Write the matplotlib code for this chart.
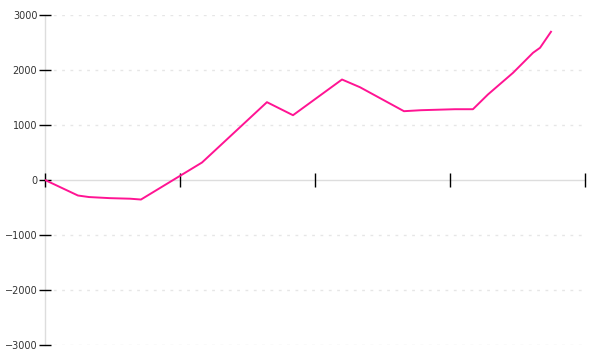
import numpy as np
import matplotlib.pyplot as plt

# values (x in tick units 0..4, y in value units)
x_vals = [0.0, 0.244, 0.326, 0.481, 0.630, 0.711, 1.163, 1.644, 1.837,
          2.200, 2.333, 2.659, 2.785, 3.037, 3.170, 3.281, 3.467, 3.615,
          3.667, 3.748]
y_vals = [0, -282, -310, -330, -340, -355, 318, 1415, 1178,
          1827, 1687, 1251, 1269, 1287, 1287, 1555, 1949, 2313,
          2404, 2695]
y_ticks = [-3000, -2000, -1000, 0, 1000, 2000, 3000]
x_ticks = [0, 1, 2, 3, 4]

fig = plt.figure(figsize=(6, 3.6), dpi=100)
ax = fig.add_axes([0.075, 15 / 360, 0.9, 330 / 360])

ax.plot(x_vals, y_vals, color="#ff1493", lw=1.4, zorder=3)

ax.set_xlim(0, 4)
ax.set_ylim(-3000, 3000)
ax.set_yticks(y_ticks)
ax.set_xticks(x_ticks)
ax.set_xticklabels([])

for s in ("top", "right"):
    ax.spines[s].set_visible(False)
ax.spines["bottom"].set_position(("data", 0))
for s in ("left", "bottom"):
    ax.spines[s].set_color("#dddddd")
    ax.spines[s].set_linewidth(1)
    ax.spines[s].set_zorder(0.5)

ax.tick_params(axis="y", direction="inout", length=9, width=1, color="black",
               labelsize=7, labelcolor="#333333", pad=1)
ax.tick_params(axis="x", direction="inout", length=10, width=1, color="black")

for v in y_ticks:
    if v != 0:
        ax.axhline(v, color="#e6e6e6", lw=1, ls=(0, (2, 4)), zorder=0)

fig.savefig("out.png", dpi=100)
